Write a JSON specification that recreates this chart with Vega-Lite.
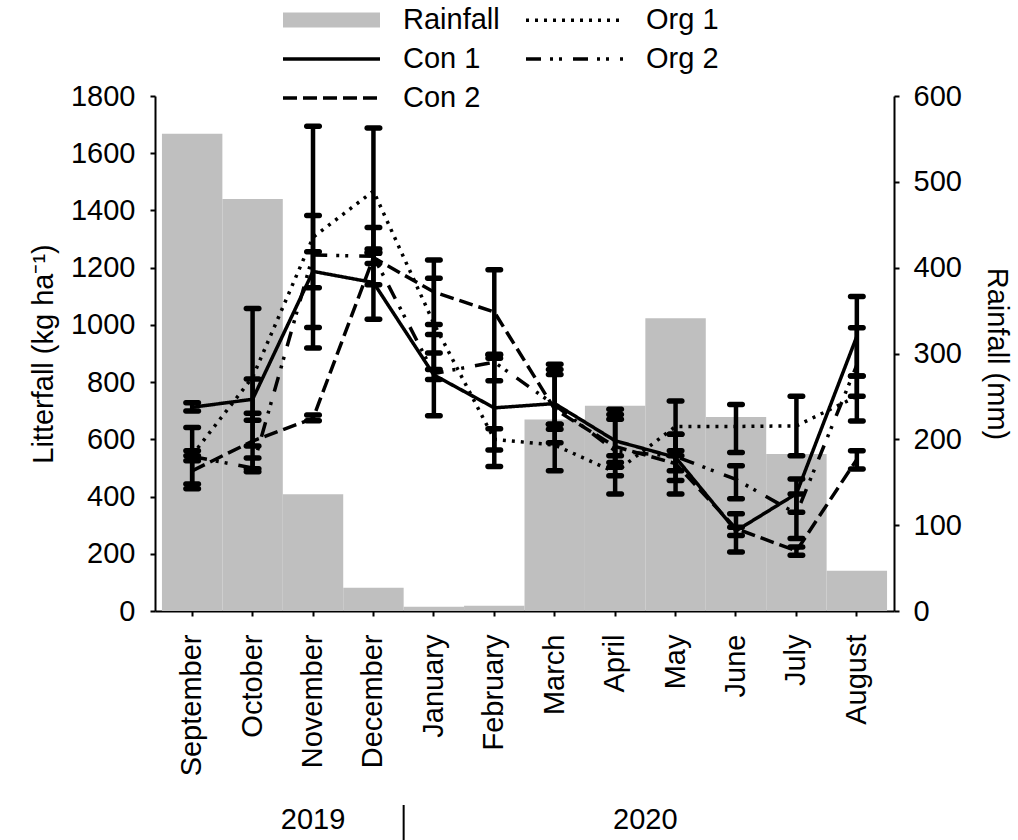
{
  "$schema": "https://vega.github.io/schema/vega-lite/v6.json",
  "width": 739,
  "height": 515,
  "autosize": {"type": "none"},
  "padding": {"left": 155, "top": 96, "right": 124, "bottom": 229},
  "config": {
    "view": {"stroke": null},
    "font": "Liberation Sans",
    "axis": {
      "domainColor": "black", "domainWidth": 2, "tickColor": "black", "tickWidth": 2, "tickSize": 5,
      "labelFontSize": 29, "titleFontSize": 29, "titleFontWeight": "normal",
      "labelColor": "black", "titleColor": "black", "grid": false,
      "labelFont": "Liberation Sans", "titleFont": "Liberation Sans"
    }
  },
  "datasets": {
    "rain": [
      {"month": "September", "series": "Rainfall", "rain": 556},
      {"month": "October", "series": "Rainfall", "rain": 480},
      {"month": "November", "series": "Rainfall", "rain": 136},
      {"month": "December", "series": "Rainfall", "rain": 27},
      {"month": "January", "series": "Rainfall", "rain": 5},
      {"month": "February", "series": "Rainfall", "rain": 6},
      {"month": "March", "series": "Rainfall", "rain": 223},
      {"month": "April", "series": "Rainfall", "rain": 239},
      {"month": "May", "series": "Rainfall", "rain": 341},
      {"month": "June", "series": "Rainfall", "rain": 226},
      {"month": "July", "series": "Rainfall", "rain": 183},
      {"month": "August", "series": "Rainfall", "rain": 47}
    ],
    "litter": [
      {"month": "September", "series": "Con 1", "mean": 712, "lo": 699, "hi": 728},
      {"month": "September", "series": "Con 2", "mean": 490, "lo": 427, "hi": 543},
      {"month": "September", "series": "Org 1", "mean": 545, "lo": 444, "hi": 641},
      {"month": "September", "series": "Org 2", "mean": 540, "lo": 525, "hi": 560},
      {"month": "October", "series": "Con 1", "mean": 740, "lo": 667, "hi": 811},
      {"month": "October", "series": "Con 2", "mean": 594, "lo": 497, "hi": 691},
      {"month": "October", "series": "Org 1", "mean": 817, "lo": 577, "hi": 1057},
      {"month": "October", "series": "Org 2", "mean": 500, "lo": 487, "hi": 535},
      {"month": "November", "series": "Con 1", "mean": 1187, "lo": 991, "hi": 1382},
      {"month": "November", "series": "Con 2", "mean": 673, "lo": 665, "hi": 685},
      {"month": "November", "series": "Org 1", "mean": 1306, "lo": 919, "hi": 1694},
      {"month": "November", "series": "Org 2", "mean": 1244, "lo": 1130, "hi": 1256},
      {"month": "December", "series": "Con 1", "mean": 1148, "lo": 1020, "hi": 1265},
      {"month": "December", "series": "Con 2", "mean": 1235, "lo": 1215, "hi": 1255},
      {"month": "December", "series": "Org 1", "mean": 1468, "lo": 1250, "hi": 1688},
      {"month": "December", "series": "Org 2", "mean": 1240, "lo": 1140, "hi": 1340},
      {"month": "January", "series": "Con 1", "mean": 825, "lo": 682, "hi": 966},
      {"month": "January", "series": "Con 2", "mean": 1115, "lo": 1001, "hi": 1227},
      {"month": "January", "series": "Org 1", "mean": 1005, "lo": 844, "hi": 1163},
      {"month": "January", "series": "Org 2", "mean": 830, "lo": 809, "hi": 902},
      {"month": "February", "series": "Con 1", "mean": 710, "lo": 505, "hi": 895},
      {"month": "February", "series": "Con 2", "mean": 1045, "lo": 897, "hi": 1193},
      {"month": "February", "series": "Org 1", "mean": 600, "lo": 563, "hi": 637},
      {"month": "February", "series": "Org 2", "mean": 870, "lo": 805, "hi": 883},
      {"month": "March", "series": "Con 1", "mean": 725, "lo": 588, "hi": 862},
      {"month": "March", "series": "Con 2", "mean": 705, "lo": 653, "hi": 827},
      {"month": "March", "series": "Org 1", "mean": 580, "lo": 490, "hi": 653},
      {"month": "March", "series": "Org 2", "mean": 720, "lo": 635, "hi": 844},
      {"month": "April", "series": "Con 1", "mean": 595, "lo": 473, "hi": 705},
      {"month": "April", "series": "Con 2", "mean": 575, "lo": 502, "hi": 687},
      {"month": "April", "series": "Org 1", "mean": 485, "lo": 409, "hi": 543},
      {"month": "April", "series": "Org 2", "mean": 560, "lo": 519, "hi": 670},
      {"month": "May", "series": "Con 1", "mean": 537, "lo": 456, "hi": 618},
      {"month": "May", "series": "Con 2", "mean": 515, "lo": 490, "hi": 543},
      {"month": "May", "series": "Org 1", "mean": 645, "lo": 560, "hi": 734},
      {"month": "May", "series": "Org 2", "mean": 540, "lo": 409, "hi": 618},
      {"month": "June", "series": "Con 1", "mean": 280, "lo": 206, "hi": 340},
      {"month": "June", "series": "Con 2", "mean": 288, "lo": 264, "hi": 293},
      {"month": "June", "series": "Org 1", "mean": 645, "lo": 554, "hi": 722},
      {"month": "June", "series": "Org 2", "mean": 460, "lo": 392, "hi": 508},
      {"month": "July", "series": "Con 1", "mean": 410, "lo": 345, "hi": 461},
      {"month": "July", "series": "Con 2", "mean": 210, "lo": 195, "hi": 224},
      {"month": "July", "series": "Org 1", "mean": 647, "lo": 543, "hi": 751},
      {"month": "July", "series": "Org 2", "mean": 340, "lo": 253, "hi": 409},
      {"month": "August", "series": "Con 1", "mean": 960, "lo": 821, "hi": 1099},
      {"month": "August", "series": "Con 2", "mean": 530, "lo": 496, "hi": 560},
      {"month": "August", "series": "Org 1", "mean": 750, "lo": 664, "hi": 821},
      {"month": "August", "series": "Org 2", "mean": 860, "lo": 751, "hi": 990}
    ],
    "y2019": [{"month": "November", "label": "2019"}],
    "y2020": [{"month": "April", "label": "2020"}],
    "sep": [{"month": "January"}]
  },
  "layer": [
    {
      "data": {"name": "rain"},
      "mark": {"type": "bar", "strokeWidth": 0},
      "encoding": {
        "x": {
          "field": "month", "type": "nominal", "title": null,
          "scale": {
            "domain": ["September", "October", "November", "December", "January", "February", "March", "April", "May", "June", "July", "August"],
            "paddingInner": 0, "paddingOuter": 0.115
          },
          "axis": {"labelAngle": 270, "labelPadding": 18, "title": null}
        },
        "y": {
          "field": "rain", "type": "quantitative", "title": "Rainfall (mm)",
          "scale": {"domain": [0, 600], "nice": false},
          "axis": {"orient": "right", "values": [0, 100, 200, 300, 400, 500, 600], "format": "d", "labelPadding": 14, "titlePadding": 20}
        },
        "fill": {
          "field": "series", "type": "nominal",
          "scale": {"domain": ["Rainfall"], "range": ["#bfbfbf"]},
          "legend": {
            "orient": "none", "legendX": 128, "legendY": -124.5, "title": null, "padding": 0,
            "symbolType": "M-1,-0.155H1V0.155H-1Z", "symbolSize": 9409, "symbolStrokeWidth": 0,
            "labelExpr": "''", "labelFontSize": 1
          }
        }
      }
    },
    {
      "layer": [
        {
          "data": {"name": "litter"},
          "mark": {"type": "rule", "strokeWidth": 4.5, "color": "black"},
          "encoding": {
            "x": {"field": "month", "type": "nominal", "title": null},
            "y": {"field": "lo", "type": "quantitative", "title": "Litterfall (kg ha⁻¹)", "scale": {"domain": [0, 1800], "nice": false}},
            "y2": {"field": "hi"}
          }
        },
        {
          "data": {"name": "litter"},
          "mark": {"type": "tick", "orient": "horizontal", "size": 18, "thickness": 5.5, "color": "black", "opacity": 1, "cornerRadius": 2.5},
          "encoding": {
            "x": {"field": "month", "type": "nominal", "title": null},
            "y": {"field": "lo", "type": "quantitative", "title": "Litterfall (kg ha⁻¹)", "scale": {"domain": [0, 1800], "nice": false}}
          }
        },
        {
          "data": {"name": "litter"},
          "mark": {"type": "tick", "orient": "horizontal", "size": 18, "thickness": 5.5, "color": "black", "opacity": 1, "cornerRadius": 2.5},
          "encoding": {
            "x": {"field": "month", "type": "nominal", "title": null},
            "y": {"field": "hi", "type": "quantitative", "title": "Litterfall (kg ha⁻¹)", "scale": {"domain": [0, 1800], "nice": false}}
          }
        },
        {
          "data": {"name": "litter"},
          "mark": {"type": "line", "strokeWidth": 3.5, "strokeCap": "butt", "strokeJoin": "miter"},
          "encoding": {
            "x": {"field": "month", "type": "nominal", "title": null},
            "y": {
              "field": "mean", "type": "quantitative", "title": "Litterfall (kg ha⁻¹)",
              "scale": {"domain": [0, 1800], "nice": false},
              "axis": {"orient": "left", "values": [0, 200, 400, 600, 800, 1000, 1200, 1400, 1600, 1800], "format": "d", "labelPadding": 15, "titlePadding": 12}
            },
            "color": {
              "field": "series", "type": "nominal",
              "scale": {"domain": ["Rainfall", "Con 1", "Con 2", "Org 1", "Org 2"], "range": ["#bfbfbf", "black", "black", "black", "black"]},
              "legend": {
                "orient": "none", "legendX": 126, "legendY": -90.5, "columns": 2, "direction": "vertical", "title": null,
                "labelFontSize": 29, "labelFont": "Liberation Sans", "labelColor": "black", "clipHeight": 29,
                "symbolType": "stroke", "symbolSize": 9409, "symbolStrokeWidth": 3.5, "columnPadding": 24, "rowPadding": 9, "labelOffset": 21, "padding": 0
              }
            },
            "strokeDash": {
              "field": "series", "type": "nominal",
              "scale": {"domain": ["Rainfall", "Con 1", "Con 2", "Org 1", "Org 2"], "range": [[1, 0], [1, 0], [14, 6], [3, 6], [15, 9, 3, 6, 3, 11]]},
              "legend": {
                "orient": "none", "legendX": 126, "legendY": -90.5, "columns": 2, "direction": "vertical", "title": null,
                "labelFontSize": 29, "labelFont": "Liberation Sans", "labelColor": "black", "clipHeight": 29,
                "symbolType": "stroke", "symbolSize": 9409, "symbolStrokeWidth": 3.5, "columnPadding": 24, "rowPadding": 9, "labelOffset": 21, "padding": 0
              }
            },
            "detail": {"field": "series", "type": "nominal"}
          }
        },
        {
          "data": {"name": "y2019"},
          "mark": {"type": "text", "fontSize": 29, "font": "Liberation Sans", "color": "black", "baseline": "middle", "align": "center"},
          "encoding": {
            "x": {"field": "month", "type": "nominal", "title": null, "bandPosition": 0.5},
            "y": {"value": 724},
            "text": {"field": "label"}
          }
        },
        {
          "data": {"name": "y2020"},
          "mark": {"type": "text", "fontSize": 29, "font": "Liberation Sans", "color": "black", "baseline": "middle", "align": "center"},
          "encoding": {
            "x": {"field": "month", "type": "nominal", "title": null, "bandPosition": 1},
            "y": {"value": 724},
            "text": {"field": "label"}
          }
        },
        {
          "data": {"name": "sep"},
          "mark": {"type": "rule", "strokeWidth": 2, "color": "black"},
          "encoding": {
            "x": {"field": "month", "type": "nominal", "title": null, "bandPosition": 0},
            "y": {"value": 709},
            "y2": {"value": 744}
          }
        }
      ]
    }
  ],
  "resolve": {"scale": {"y": "independent"}}
}
